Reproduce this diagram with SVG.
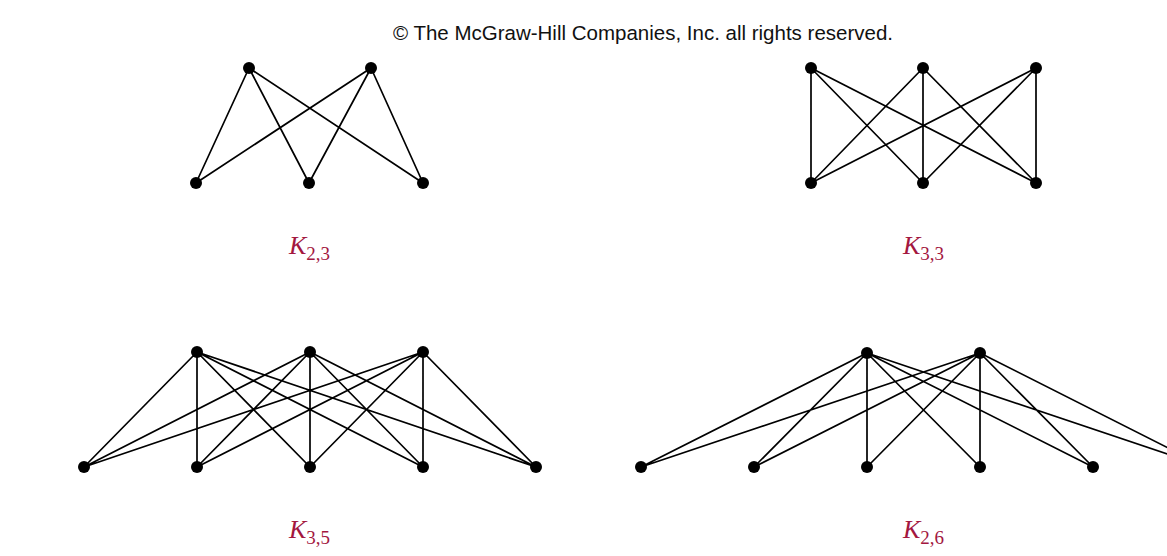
<svg xmlns="http://www.w3.org/2000/svg" width="1167" height="556" viewBox="0 0 1167 556">
<style>
.e{stroke:#000;stroke-width:1.7;fill:none}
.n{fill:#000}
.lab{font-family:"Liberation Serif",serif;font-style:italic;fill:#a3173f;font-size:26px}
.sub{font-family:"Liberation Serif",serif;font-style:normal;fill:#a3173f;font-size:19px}
.title{font-family:"Liberation Sans",Arial,sans-serif;font-size:20.5px;fill:#111}
</style>
<rect width="1167" height="556" fill="#fff"/>
<text class="title" x="643" y="40" text-anchor="middle">© The McGraw-Hill Companies, Inc. all rights reserved.</text>
<g id="connectors">
<g id="k23-edges">
<path class="e" d="M249,68L196,183M249,68L309,183M249,68L423,183M371,68L196,183M371,68L309,183M371,68L423,183"/>
</g>
<g id="k33-edges">
<path class="e" d="M811,68L811,183M811,68L923,183M811,68L1036,183M923,68L811,183M923,68L923,183M923,68L1036,183M1036,68L811,183M1036,68L923,183M1036,68L1036,183"/>
</g>
<g id="k35-edges">
<path class="e" d="M197,352L84,467M197,352L197,467M197,352L310,467M197,352L423,467M197,352L536,467M310,352L84,467M310,352L197,467M310,352L310,467M310,352L423,467M310,352L536,467M423,352L84,467M423,352L197,467M423,352L310,467M423,352L423,467M423,352L536,467"/>
</g>
<g id="k26-edges">
<path class="e" d="M867,353L641,467M867,353L754,467M867,353L867,467M867,353L980,467M867,353L1093,467M867,353L1206,467M980,353L641,467M980,353L754,467M980,353L867,467M980,353L980,467M980,353L1093,467M980,353L1206,467"/>
</g>
</g>
<g id="k23">
<circle class="n" cx="249" cy="68" r="6"/><circle class="n" cx="371" cy="68" r="6"/>
<circle class="n" cx="196" cy="183" r="6"/><circle class="n" cx="309" cy="183" r="6"/><circle class="n" cx="423" cy="183" r="6"/>
<text class="lab" x="289" y="254">K<tspan class="sub" dy="6">2,3</tspan></text>
</g>
<g id="k33">
<circle class="n" cx="811" cy="68" r="6"/><circle class="n" cx="923" cy="68" r="6"/><circle class="n" cx="1036" cy="68" r="6"/>
<circle class="n" cx="811" cy="183" r="6"/><circle class="n" cx="923" cy="183" r="6"/><circle class="n" cx="1036" cy="183" r="6"/>
<text class="lab" x="903" y="254">K<tspan class="sub" dy="6">3,3</tspan></text>
</g>
<g id="k35">
<circle class="n" cx="197" cy="352" r="6"/><circle class="n" cx="310" cy="352" r="6"/><circle class="n" cx="423" cy="352" r="6"/>
<circle class="n" cx="84" cy="467" r="6"/><circle class="n" cx="197" cy="467" r="6"/><circle class="n" cx="310" cy="467" r="6"/><circle class="n" cx="423" cy="467" r="6"/><circle class="n" cx="536" cy="467" r="6"/>
<text class="lab" x="289" y="538">K<tspan class="sub" dy="6">3,5</tspan></text>
</g>
<g id="k26">
<circle class="n" cx="867" cy="353" r="6"/><circle class="n" cx="980" cy="353" r="6"/>
<circle class="n" cx="641" cy="467" r="6"/><circle class="n" cx="754" cy="467" r="6"/><circle class="n" cx="867" cy="467" r="6"/><circle class="n" cx="980" cy="467" r="6"/><circle class="n" cx="1093" cy="467" r="6"/><circle class="n" cx="1206" cy="467" r="6"/>
<text class="lab" x="903" y="538">K<tspan class="sub" dy="6">2,6</tspan></text>
</g>
</svg>
